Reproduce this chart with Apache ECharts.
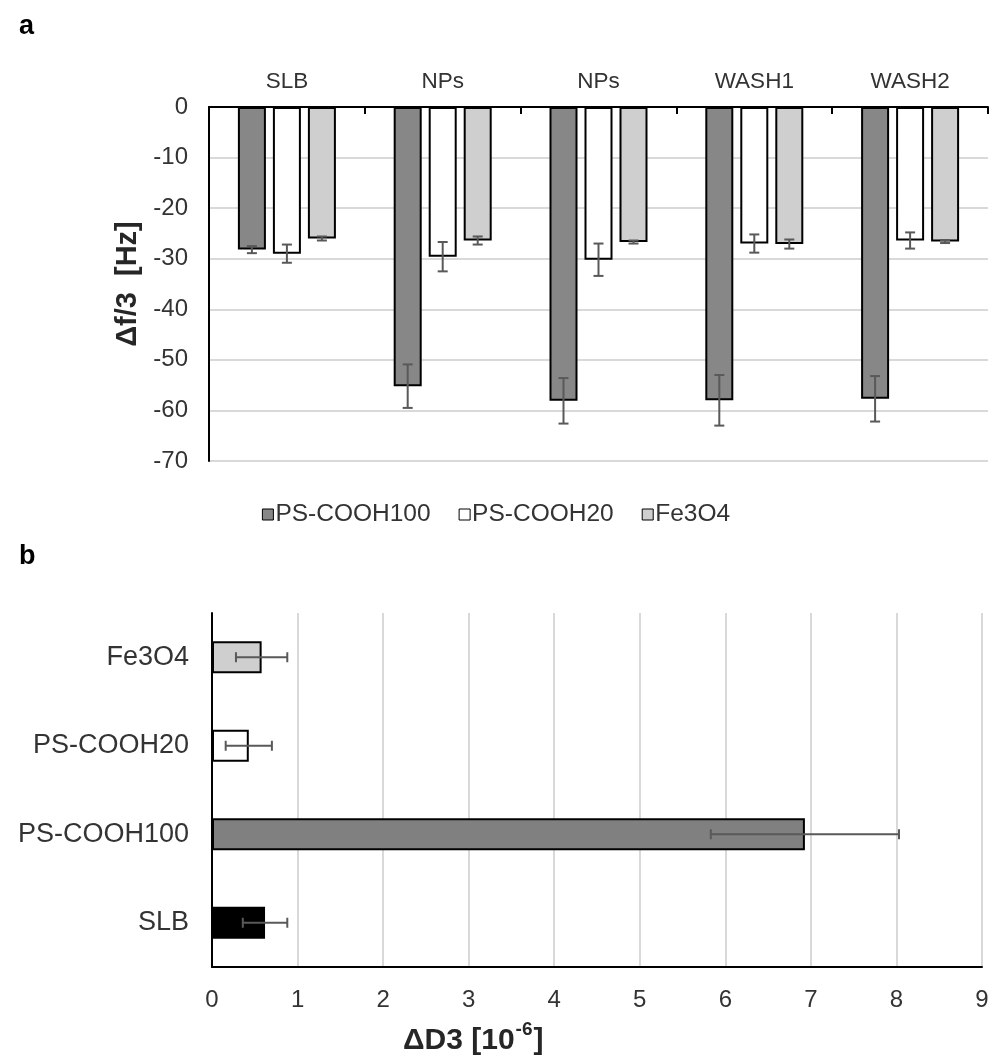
<!DOCTYPE html>
<html>
<head>
<meta charset="utf-8">
<script src="https://cdn.jsdelivr.net/npm/echarts@6/dist/echarts.min.js"></script>
<style>
  html, body { margin: 0; padding: 0; background: #fff; }
  #chart { width: 992px; height: 1059px; }
</style>
</head>
<body>
<div id="chart"></div>
<script>
// Panel a: frequency shift per stage (mean and standard deviation)
const stages = ['SLB', 'NPs', 'NPs', 'WASH1', 'WASH2'];
const particleNames = ['PS-COOH100', 'PS-COOH20', 'Fe3O4'];
const shiftPS100 = [-28.2, -55.2, -58.1, -58.0, -57.7];
const shiftPS100Err = [0.7, 4.3, 4.5, 5.0, 4.5];
const shiftPS20 = [-29.0, -29.6, -30.2, -27.0, -26.4];
const shiftPS20Err = [1.8, 2.9, 3.2, 1.8, 1.6];
const shiftFe = [-26.0, -26.4, -26.7, -27.1, -26.6];
const shiftFeErr = [0.4, 0.8, 0.3, 0.9, 0.3];
const shiftAxis = { min: -70, max: 0, interval: 10 };

// Panel b: dissipation change (bottom to top)
const dissCats = ['SLB', 'PS-COOH100', 'PS-COOH20', 'Fe3O4'];
const dissValues = [0.62, 6.93, 0.43, 0.58];
const dissErr = [0.26, 1.1, 0.27, 0.3];
const dissAxis = { min: 0, max: 9, interval: 1 };

const FONT = "'Liberation Sans', Arial, sans-serif";
const TXT = '#333333';
const GRID_LINE = '#d9d9d9';
const ERR_COLOR = '#595959';
const BAR_W = 28;
const BAR_GAP = 0.25;
const barFill = ['#878787', '#ffffff', '#cfcfcf'];
const dissFill = ['#000000', '#808080', '#ffffff', '#cfcfcf'];

// Vertical error bar, shifted to the centre of the grouped bar it belongs to
function verticalError(slot) {
  return function (params, api) {
    const i = api.value(0), v = api.value(1), e = api.value(2);
    const hi = api.coord([i, v + e]);
    const lo = api.coord([i, v - e]);
    const x = hi[0] + (BAR_W * (1 + BAR_GAP)) * (slot - 1);
    const cap = 5;
    const st = { stroke: ERR_COLOR, lineWidth: 2 };
    return { type: 'group', children: [
      { type: 'line', shape: { x1: x, y1: hi[1], x2: x, y2: lo[1] }, style: st },
      { type: 'line', shape: { x1: x - cap, y1: hi[1], x2: x + cap, y2: hi[1] }, style: st },
      { type: 'line', shape: { x1: x - cap, y1: lo[1], x2: x + cap, y2: lo[1] }, style: st }
    ]};
  };
}

// Horizontal error bar for panel b
function horizontalError(params, api) {
  const v = api.value(0), i = api.value(1), e = api.value(2);
  const a = api.coord([v - e, i]);
  const b = api.coord([v + e, i]);
  const cap = 5;
  const st = { stroke: ERR_COLOR, lineWidth: 2 };
  return { type: 'group', children: [
    { type: 'line', shape: { x1: a[0], y1: a[1], x2: b[0], y2: b[1] }, style: st },
    { type: 'line', shape: { x1: a[0], y1: a[1] - cap, x2: a[0], y2: a[1] + cap }, style: st },
    { type: 'line', shape: { x1: b[0], y1: b[1] - cap, x2: b[0], y2: b[1] + cap }, style: st }
  ]};
}

const shiftSets = [
  [shiftPS100, shiftPS100Err],
  [shiftPS20, shiftPS20Err],
  [shiftFe, shiftFeErr]
];

const series = [];
shiftSets.forEach(function (set, k) {
  series.push({
    name: particleNames[k],
    type: 'bar',
    xAxisIndex: 0, yAxisIndex: 0,
    barWidth: BAR_W,
    barGap: (BAR_GAP * 100) + '%',
    data: set[0],
    itemStyle: { color: barFill[k], borderColor: '#000', borderWidth: 2 },
    z: 2
  });
});
shiftSets.forEach(function (set, k) {
  series.push({
    type: 'custom',
    xAxisIndex: 0, yAxisIndex: 0,
    renderItem: verticalError(k),
    data: set[0].map(function (v, i) { return [i, v, set[1][i]]; }),
    z: 5, silent: true
  });
});
series.push({
  name: 'ΔD3',
  type: 'bar',
  xAxisIndex: 1, yAxisIndex: 1,
  barWidth: 32,
  data: dissValues.map(function (v, i) {
    return { value: v, itemStyle: { color: dissFill[i] } };
  }),
  itemStyle: { borderColor: '#000', borderWidth: 2 },
  z: 2
});
series.push({
  type: 'custom',
  xAxisIndex: 1, yAxisIndex: 1,
  renderItem: horizontalError,
  data: dissValues.map(function (v, i) { return [v, i, dissErr[i]]; }),
  z: 5, silent: true
});

const chart = echarts.init(document.getElementById('chart'), null, { renderer: 'canvas' });
chart.setOption({
  backgroundColor: '#ffffff',
  animation: false,
  textStyle: { fontFamily: FONT },
  title: [
    { text: 'a', left: 14, top: 8, textStyle: { fontFamily: FONT, fontSize: 27, fontWeight: 'bold', color: '#000' } },
    { text: 'b', left: 14, top: 538, textStyle: { fontFamily: FONT, fontSize: 27, fontWeight: 'bold', color: '#000' } },
    {
      text: '{m|ΔD3 [10}{s|-6}{m|]}',
      left: 398, top: 1015,
      textStyle: { rich: {
        m: { fontFamily: FONT, fontSize: 30, fontWeight: 'bold', color: '#262626', verticalAlign: 'bottom', lineHeight: 36 },
        s: { fontFamily: FONT, fontSize: 19, fontWeight: 'bold', color: '#262626', verticalAlign: 'top', lineHeight: 36, padding: [0, 1, 13, 1] }
      } }
    }
  ],
  legend: {
    data: particleNames,
    left: 'center', top: 497,
    icon: 'rect', itemWidth: 11, itemHeight: 11, itemGap: 28,
    itemStyle: { borderColor: '#000', borderWidth: 1 },
    textStyle: { fontFamily: FONT, fontSize: 24.5, color: TXT, padding: [0, 0, 0, -3] }
  },
  grid: [
    { left: 209, right: 4, top: 107, height: 354 },
    { left: 212, right: 10, top: 613, height: 354 }
  ],
  xAxis: [
    {
      type: 'category', gridIndex: 0, position: 'top',
      data: stages,
      axisLine: { lineStyle: { color: '#000', width: 2 } },
      axisTick: { show: true, inside: true, length: 7, alignWithLabel: false, lineStyle: { color: '#000', width: 2 } },
      axisLabel: { fontFamily: FONT, fontSize: 22.5, color: TXT, margin: 14 },
      splitLine: { show: false }
    },
    {
      type: 'value', gridIndex: 1,
      min: dissAxis.min, max: dissAxis.max, interval: dissAxis.interval,
      axisLine: { show: true, lineStyle: { color: '#000', width: 2 } },
      axisTick: { show: false },
      axisLabel: { fontFamily: FONT, fontSize: 24, color: TXT, margin: 21 },
      splitLine: { show: true, lineStyle: { color: GRID_LINE, width: 2 } }
    }
  ],
  yAxis: [
    {
      type: 'value', gridIndex: 0,
      min: shiftAxis.min, max: shiftAxis.max, interval: shiftAxis.interval,
      name: 'Δf/3  [Hz]',
      nameLocation: 'middle', nameRotate: 90, nameGap: 66,
      nameTextStyle: { fontFamily: FONT, fontSize: 29, fontWeight: 'bold', color: '#262626' },
      axisLine: { show: true, lineStyle: { color: '#000', width: 2 } },
      axisTick: { show: false },
      axisLabel: { fontFamily: FONT, fontSize: 24, color: TXT, margin: 21 },
      splitLine: { show: true, lineStyle: { color: GRID_LINE, width: 2 } }
    },
    {
      type: 'category', gridIndex: 1,
      data: dissCats,
      axisLine: { show: true, lineStyle: { color: '#000', width: 2 } },
      axisTick: { show: false },
      axisLabel: { fontFamily: FONT, fontSize: 27, color: TXT, margin: 23 },
      splitLine: { show: false }
    }
  ],
  series: series
});
</script>
</body>
</html>
